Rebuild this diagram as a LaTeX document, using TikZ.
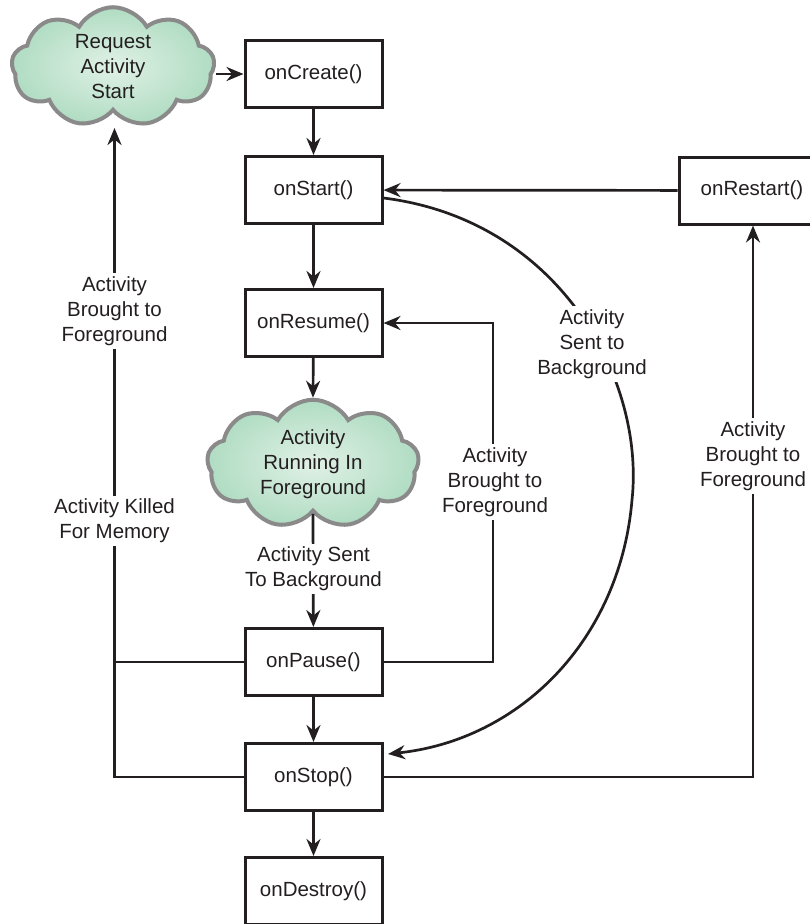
\documentclass[tikz,border=0pt]{standalone}
\usepackage{fontspec}
\setmainfont{Liberation Sans}
\usetikzlibrary{shapes.symbols,arrows.meta}
\definecolor{ink}{HTML}{231F20}
\definecolor{mint}{HTML}{B0DCC2}
\definecolor{mintlight}{HTML}{E0F1E6}
\definecolor{cloudedge}{HTML}{8A8A8A}
\tikzset{
  txt/.style={font=\fontsize{20.5}{25}\selectfont, text=ink},
  stepbox/.style={txt, draw=ink, line width=3pt, fill=white,
    minimum width=137pt, minimum height=67pt, inner sep=0pt},
  cloudnode/.style={txt, cloud, cloud puffs=9, cloud puff arc=120, aspect=1.9,
    draw=cloudedge, line width=4pt, inner color=mintlight, outer color=mint,
    align=center, inner sep=0pt},
  conn/.style={draw=ink, line width=2.7pt, -{Stealth[length=17pt,width=14pt]}},
  plain/.style={draw=ink, line width=2.7pt},
  lbl/.style={txt, fill=white, align=center, inner sep=3pt},
}
\begin{document}
\begin{tikzpicture}[x=1pt,y=-1pt]
\useasboundingbox (0,0) rectangle (810,924);
% clouds
\node[cloudnode, minimum width=203pt, minimum height=114pt] (req) at (113,67) {Request\\Activity\\Start};
\node[cloudnode, minimum width=212pt, minimum height=106pt] (run) at (313,464) {Activity\\Running In\\Foreground};
% boxes
\node[stepbox] (onCreate) at (313.5,74) {onCreate()};
\node[stepbox] (onStart) at (313.5,190) {onStart()};
\node[stepbox] (onResume) at (313.5,323) {onResume()};
\node[stepbox] (onPause) at (313.5,662) {onPause()};
\node[stepbox] (onStop) at (313.5,777) {onStop()};
\node[stepbox] (onDestroy) at (313.5,891) {onDestroy()};
\node[stepbox, minimum width=146pt] (onRestart) at (752,190.5) {onRestart()};
\coordinate (reqtip) at (114.5,128);
\coordinate (midcol) at (493,500);
\coordinate (bend) at (632,500);
\coordinate (stopin) at (388,754);
% main chain
\draw[conn] (onCreate.west -| req.east) -- (onCreate.west);
\draw[conn] (onCreate) -- (onStart);
\draw[conn] (onStart) -- (onResume);
\draw[conn] (onResume) -- (run.north);
\draw[conn] (run.south) -- (onPause);
\draw[conn] (onPause) -- (onStop);
\draw[conn] (onStop) -- (onDestroy);
% restart path
\draw[conn] (onRestart) -- (onStart);
\draw[conn] (onStop.east) -| (onRestart.south -| 753,0);
% pause -> resume
\draw[conn] (onPause.east) -| (midcol) |- (onResume.east);
% left side: killed for memory
\draw[plain] (onPause.west) -- (onPause.west -| reqtip);
\draw[conn] (onStop.west) -| (reqtip);
% curve from onStart to onStop
\draw[conn] ([yshift=-8pt]onStart.east) .. controls (560,220) and (645,380) .. (bend)
  .. controls (620,640) and (520,740) .. (stopin);
% labels
\node[lbl] (l1) at (114.5,311) {Activity\\Brought to\\Foreground};
\node[lbl] (l2) at (114.5,521) {Activity Killed\\For Memory};
\node[lbl] (l3) at (313.5,569) {Activity Sent\\To Background};
\node[lbl] (l4) at (495,482) {Activity\\Brought to\\Foreground};
\node[lbl] (l5) at (592,344) {Activity\\Sent to\\Background};
\node[lbl] (l6) at (753,456) {Activity\\Brought to\\Foreground};
\end{tikzpicture}
\end{document}
